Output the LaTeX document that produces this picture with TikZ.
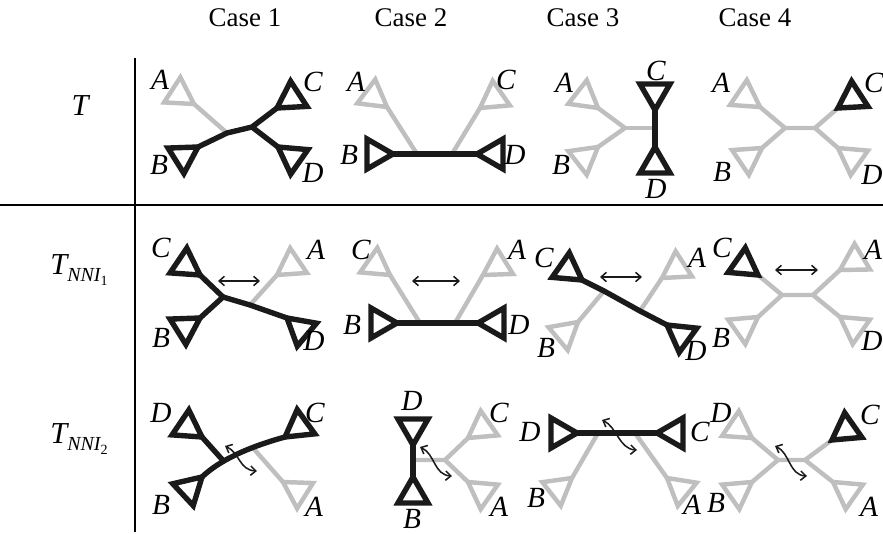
\documentclass[tikz,border=0pt]{standalone}
\usepackage{fontspec}
\setmainfont{Liberation Serif}
\usepackage{tikz}
\usetikzlibrary{arrows.meta}
\definecolor{treegray}{HTML}{BFBFBF}
\definecolor{treeblack}{HTML}{1A1A1A}
\tikzset{
  gedge/.style={draw=treegray, line width=3.8pt, line cap=round},
  bedge/.style={draw=treeblack, line width=4.6pt, line cap=round},
  gtri/.style={draw=treegray, line width=3.8pt, line join=miter},
  btri/.style={draw=treeblack, line width=4.6pt, line join=miter},
  leaflabel/.style={font=\fontsize{25}{27}\selectfont\itshape, inner sep=0pt},
  casehead/.style={font=\fontsize{23}{26}\selectfont, inner sep=0pt},
  rowlabel/.style={font=\fontsize{26}{28}\selectfont\itshape, inner sep=0pt},
  nniarrow/.style={draw=treeblack, line width=1.3pt, {Straight Barb[length=4.5pt,width=8pt]}-{Straight Barb[length=4.5pt,width=8pt]}},
  frame/.style={draw=black, line width=1pt},
  framebold/.style={draw=black, line width=2.3pt},
}
% subtree triangle: attach point, opening angle, style
\newcommand\leaftri[3]{\draw[#3] (#1) -- ++(#2-30:30) -- ++(#2+90:30) -- cycle;}
\newcommand\subidx[1]{\raisebox{-0.5ex}{\fontsize{17}{17}\selectfont NNI\raisebox{-0.45ex}{\fontsize{12}{12}\selectfont\upshape #1}}}

\begin{document}
\begin{tikzpicture}[x=0.03cm, y=-0.03cm]
    \useasboundingbox (0,0) rectangle (883,534);

    % Table lines
    \draw[frame] (135,58) -- (135,532);
    \draw[frame] (0,205) -- (883,205);
    \foreach \ya/\yb in {58/98, 143/188, 228/263, 317/357} {
        \draw[framebold] (135,\ya) -- (135,\yb);
    }
    \draw[framebold] (623,205) -- (687,205);

    % Column heads
    \node[casehead] (head1) at (245,18) {Case 1};
    \node[casehead] (head2) at (411,18) {Case 2};
    \node[casehead] (head3) at (583,18) {Case 3};
    \node[casehead] (head4) at (755,18) {Case 4};

    % Row heads
    \node[rowlabel] (rowT) at (80,106) {T};
    \node[rowlabel] (rowN1) at (79,270) {T\subidx{1}};
    \node[rowlabel] (rowN2) at (79,439) {T\subidx{2}};

    % ---- T, case 1
    \coordinate (A) at (194,104); \coordinate (B) at (198,147);
    \coordinate (C) at (277,108); \coordinate (D) at (278,147);
    \coordinate (u) at (227,133); \coordinate (v) at (252,127);
    \draw[gedge] (A) -- (u);
    \leaftri{A}{213}{gtri}
    \draw[bedge] (B) -- (u) -- (v) -- (C);
    \draw[bedge] (v) -- (D);
    \leaftri{B}{148}{btri}
    \leaftri{C}{-33}{btri}
    \leaftri{D}{35}{btri}
    \node[leaflabel] (t1A) at (160,80) {A};
    \node[leaflabel] (t1B) at (159,165) {B};
    \node[leaflabel] (t1C) at (313,82) {C};
    \node[leaflabel] (t1D) at (313,173) {D};

    % ---- T, case 2
    \coordinate (A) at (387,107); \coordinate (C) at (480,108);
    \coordinate (B) at (393,154); \coordinate (D) at (477,154);
    \coordinate (u) at (417,154); \coordinate (v) at (452,154);
    \draw[gedge] (A) -- (u);
    \draw[gedge] (C) -- (v);
    \leaftri{A}{217}{gtri}
    \leaftri{C}{-35}{gtri}
    \draw[bedge] (B) -- (D);
    \leaftri{B}{180}{btri}
    \leaftri{D}{0}{btri}
    \node[leaflabel] (t2A) at (356,82) {A};
    \node[leaflabel] (t2C) at (506,80) {C};
    \node[leaflabel] (t2B) at (349,155) {B};
    \node[leaflabel] (t2D) at (515,155) {D};

    % ---- T, case 3
    \coordinate (A) at (598,108); \coordinate (B) at (598,147);
    \coordinate (C) at (655,110); \coordinate (D) at (655,147);
    \coordinate (u) at (625,128); \coordinate (v) at (655,128);
    \draw[gedge] (A) -- (u) -- (B);
    \draw[gedge] (u) -- (v);
    \leaftri{A}{218}{gtri}
    \leaftri{B}{142}{gtri}
    \draw[bedge] (C) -- (D);
    \leaftri{C}{-90}{btri}
    \leaftri{D}{90}{btri}
    \node[leaflabel] (t3A) at (564,83) {A};
    \node[leaflabel] (t3B) at (561,165) {B};
    \node[leaflabel] (t3C) at (656,71) {C};
    \node[leaflabel] (t3D) at (656,189) {D};

    % ---- T, case 4
    \coordinate (A) at (760,107); \coordinate (B) at (762,148);
    \coordinate (C) at (838,108); \coordinate (D) at (838,148);
    \coordinate (u) at (785,128); \coordinate (v) at (815,128);
    \draw[gedge] (A) -- (u) -- (B);
    \draw[gedge] (u) -- (v) -- (C);
    \draw[gedge] (v) -- (D);
    \leaftri{A}{214}{gtri}
    \leaftri{B}{146}{gtri}
    \leaftri{D}{35}{gtri}
    \leaftri{C}{-33}{btri}
    \node[leaflabel] (t4A) at (721,83) {A};
    \node[leaflabel] (t4B) at (722,172) {B};
    \node[leaflabel] (t4C) at (874,83) {C};
    \node[leaflabel] (t4D) at (872,175) {D};

    % ---- NNI 1, case 1
    \coordinate (C) at (200,275); \coordinate (B) at (200,318);
    \coordinate (D) at (287,318); \coordinate (A) at (277,275);
    \coordinate (u) at (223,297); \coordinate (v) at (250,305);
    \draw[gedge] (A) -- (v);
    \leaftri{A}{-34}{gtri}
    \draw[bedge] (C) -- (u) -- (B);
    \draw[bedge] (u) -- (v) -- (D);
    \leaftri{C}{214}{btri}
    \leaftri{B}{148}{btri}
    \leaftri{D}{40}{btri}
    \coordinate (s1) at (218,281); \coordinate (s2) at (260,281);
    \draw[nniarrow] (s1) -- (s2);
    \node[leaflabel] (n1C) at (161,248) {C};
    \node[leaflabel] (n1A) at (316,250) {A};
    \node[leaflabel] (n1B) at (161,338) {B};
    \node[leaflabel] (n1D) at (314,341) {D};

    % ---- NNI 1, case 2
    \coordinate (C) at (390,275); \coordinate (A) at (483,275);
    \coordinate (B) at (397,323); \coordinate (D) at (478,323);
    \coordinate (u) at (420,323); \coordinate (v) at (455,323);
    \draw[gedge] (C) -- (u);
    \draw[gedge] (A) -- (v);
    \leaftri{C}{215}{gtri}
    \leaftri{A}{-32}{gtri}
    \draw[bedge] (B) -- (D);
    \leaftri{B}{180}{btri}
    \leaftri{D}{0}{btri}
    \coordinate (s1) at (412,281); \coordinate (s2) at (460,281);
    \draw[nniarrow] (s1) -- (s2);
    \node[leaflabel] (n2C) at (361,250) {C};
    \node[leaflabel] (n2A) at (517,250) {A};
    \node[leaflabel] (n2B) at (352,325) {B};
    \node[leaflabel] (n2D) at (519,325) {D};

    % ---- NNI 1, case 3
    \coordinate (C) at (582,280); \coordinate (D) at (667,325);
    \coordinate (A) at (662,278); \coordinate (B) at (578,322);
    \coordinate (u) at (604,291); \coordinate (v) at (640,311);
    \draw[gedge] (B) -- (u);
    \draw[gedge] (A) -- (v);
    \leaftri{A}{-33}{gtri}
    \leaftri{B}{140}{gtri}
    \draw[bedge] (C) -- (u) -- (v) -- (D);
    \leaftri{C}{215}{btri}
    \leaftri{D}{36}{btri}
    \coordinate (s1) at (600,277); \coordinate (s2) at (642,277);
    \draw[nniarrow] (s1) -- (s2);
    \node[leaflabel] (n3C) at (544,258) {C};
    \node[leaflabel] (n3A) at (697,258) {A};
    \node[leaflabel] (n3B) at (546,348) {B};
    \node[leaflabel] (n3D) at (696,351) {D};

    % ---- NNI 1, case 4
    \coordinate (C) at (758,275); \coordinate (A) at (840,270);
    \coordinate (B) at (758,317); \coordinate (D) at (840,317);
    \coordinate (u) at (782,295); \coordinate (v) at (813,295);
    \draw[gedge] (C) -- (u) -- (B);
    \draw[gedge] (u) -- (v) -- (A);
    \draw[gedge] (v) -- (D);
    \leaftri{A}{-31}{gtri}
    \leaftri{B}{145}{gtri}
    \leaftri{D}{35}{gtri}
    \leaftri{C}{215}{btri}
    \coordinate (s1) at (775,270); \coordinate (s2) at (818,270);
    \draw[nniarrow] (s1) -- (s2);
    \node[leaflabel] (n4C) at (722,248) {C};
    \node[leaflabel] (n4A) at (873,250) {A};
    \node[leaflabel] (n4B) at (721,338) {B};
    \node[leaflabel] (n4D) at (872,341) {D};

    % ---- NNI 2, case 1
    \coordinate (D) at (202,437); \coordinate (B) at (202,477);
    \coordinate (C) at (285,437); \coordinate (A) at (283,482);
    \coordinate (u) at (223.5,461); \coordinate (w) at (253,448);
    \draw[gedge] (w) -- (A);
    \leaftri{A}{32}{gtri}
    \draw[bedge] (B) .. controls (218.7,461) and (246.3,447.7) .. (C);
    \draw[bedge] (D) -- (u);
    \leaftri{D}{214}{btri}
    \leaftri{B}{137}{btri}
    \leaftri{C}{-36}{btri}
    \coordinate (s1) at (225,446); \coordinate (s2) at (257,471);
    \draw[nniarrow] (s1) .. controls +(15,7) and +(-18,-1) .. (s2);
    \node[leaflabel] (m1D) at (161,413) {D};
    \node[leaflabel] (m1C) at (315,413) {C};
    \node[leaflabel] (m1B) at (161,505) {B};
    \node[leaflabel] (m1A) at (314,507) {A};

    % ---- NNI 2, case 2
    \coordinate (D) at (413,445); \coordinate (B) at (413,477);
    \coordinate (C) at (468,438); \coordinate (A) at (468,482);
    \coordinate (u) at (413,460); \coordinate (v) at (445,460);
    \draw[gedge] (u) -- (v) -- (C);
    \draw[gedge] (v) -- (A);
    \leaftri{C}{-35}{gtri}
    \leaftri{A}{35}{gtri}
    \draw[bedge] (D) -- (B);
    \leaftri{D}{-90}{btri}
    \leaftri{B}{90}{btri}
    \coordinate (s1) at (420,447); \coordinate (s2) at (452,476);
    \draw[nniarrow] (s1) .. controls +(15,7) and +(-18,-1) .. (s2);
    \node[leaflabel] (m2D) at (412,401) {D};
    \node[leaflabel] (m2B) at (412,519) {B};
    \node[leaflabel] (m2C) at (499,413) {C};
    \node[leaflabel] (m2A) at (499,507) {A};

    % ---- NNI 2, case 3
    \coordinate (D) at (577,433); \coordinate (C) at (657,433);
    \coordinate (B) at (572,478); \coordinate (A) at (667,478);
    \coordinate (u) at (598,433); \coordinate (v) at (635,433);
    \draw[gedge] (u) -- (B);
    \draw[gedge] (v) -- (A);
    \leaftri{B}{142}{gtri}
    \leaftri{A}{39}{gtri}
    \draw[bedge] (D) -- (C);
    \leaftri{D}{180}{btri}
    \leaftri{C}{0}{btri}
    \coordinate (s1) at (602,420); \coordinate (s2) at (637,450);
    \draw[nniarrow] (s1) .. controls +(15,7) and +(-18,-1) .. (s2);
    \node[leaflabel] (m3D) at (530,432) {D};
    \node[leaflabel] (m3C) at (700,432) {C};
    \node[leaflabel] (m3B) at (536,498) {B};
    \node[leaflabel] (m3A) at (692,505) {A};

    % ---- NNI 2, case 4
    \coordinate (D) at (752,438); \coordinate (C) at (832,440);
    \coordinate (B) at (752,482); \coordinate (A) at (833,482);
    \coordinate (u) at (778,460); \coordinate (v) at (805,460);
    \draw[gedge] (D) -- (u) -- (B);
    \draw[gedge] (u) -- (v) -- (C);
    \draw[gedge] (v) -- (A);
    \leaftri{D}{214}{gtri}
    \leaftri{B}{145}{gtri}
    \leaftri{A}{35}{gtri}
    \leaftri{C}{-35}{btri}
    \coordinate (s1) at (775,446); \coordinate (s2) at (807,476);
    \draw[nniarrow] (s1) .. controls +(15,7) and +(-18,-1) .. (s2);
    \node[leaflabel] (m4D) at (721,413) {D};
    \node[leaflabel] (m4C) at (870,415) {C};
    \node[leaflabel] (m4B) at (716,503) {B};
    \node[leaflabel] (m4A) at (869,507) {A};
\end{tikzpicture}
\end{document}
